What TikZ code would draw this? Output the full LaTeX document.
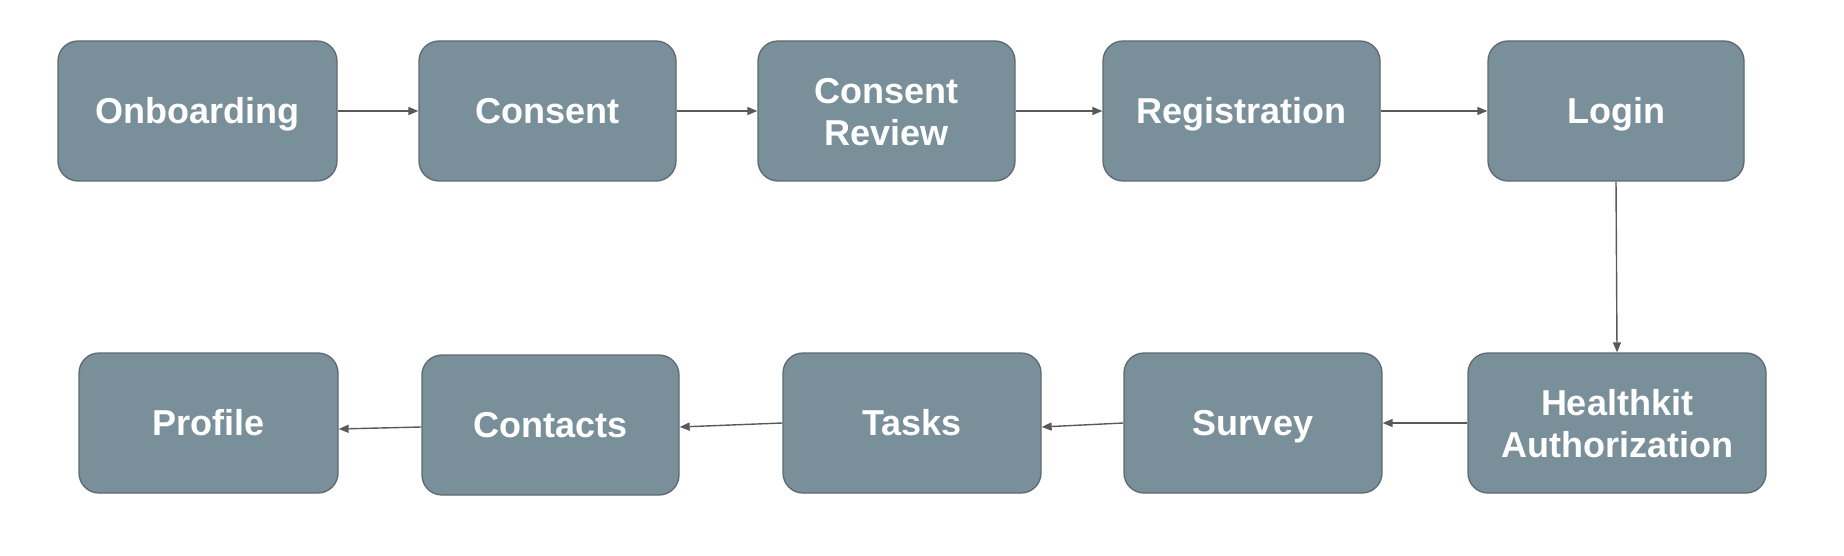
\documentclass[tikz,border=0pt]{standalone}
\usepackage{fontspec}
\setmainfont{Liberation Sans}
\usetikzlibrary{arrows.meta}
\definecolor{boxfill}{HTML}{798F99}
\definecolor{boxline}{HTML}{5E6A70}
\definecolor{arrowc}{HTML}{595959}
\tikzset{
  stepbox/.style={rectangle, rounded corners=20pt, fill=boxfill, draw=boxline, line width=1.3pt,
    text=white, font=\fontsize{36}{42}\selectfont\bfseries, align=center,
    minimum height=140pt, inner sep=0pt, text height=25.8pt, text depth=0pt},
  twoline/.style={text height=69pt},
  flow/.style={draw=arrowc, line width=1.4pt, -{Triangle[length=10pt,width=8pt]}}
}
\begin{document}
\begin{tikzpicture}[x=1pt,y=-1pt]
\useasboundingbox (0,0) rectangle (1844,556);
\node[stepbox, minimum width=279pt] (onb) at (197.5,111) {Onboarding};
\node[stepbox, minimum width=257pt] (con) at (547.5,111) {Consent};
\node[stepbox, twoline, minimum width=257pt] (rev) at (886.5,111) {Consent\\Review};
\node[stepbox, minimum width=277pt] (reg) at (1241.5,111) {Registration};
\node[stepbox, minimum width=256pt] (log) at (1616,111) {Login};
\node[stepbox, twoline, minimum width=298pt] (hk) at (1617,423) {Healthkit\\Authorization};
\node[stepbox, minimum width=258pt] (sur) at (1253,423) {Survey};
\node[stepbox, minimum width=258pt] (tas) at (912,423) {Tasks};
\node[stepbox, minimum width=257pt] (cts) at (550.5,425) {Contacts};
\node[stepbox, minimum width=259pt] (pro) at (208.5,423) {Profile};
\draw[flow] (onb.east) -- (con.west);
\draw[flow] (con.east) -- (rev.west);
\draw[flow] (rev.east) -- (reg.west);
\draw[flow] (reg.east) -- (log.west);
\draw[flow] (log.south) -- (hk.north);
\draw[flow] (hk.west) -- (sur.east);
\draw[flow] (sur.west) -- ([yshift=-4pt]tas.east);
\draw[flow] (tas.west) -- ([yshift=-2pt]cts.east);
\draw[flow] ([yshift=-2pt]cts.west) -- ([yshift=-6pt]pro.east);
\end{tikzpicture}
\end{document}
